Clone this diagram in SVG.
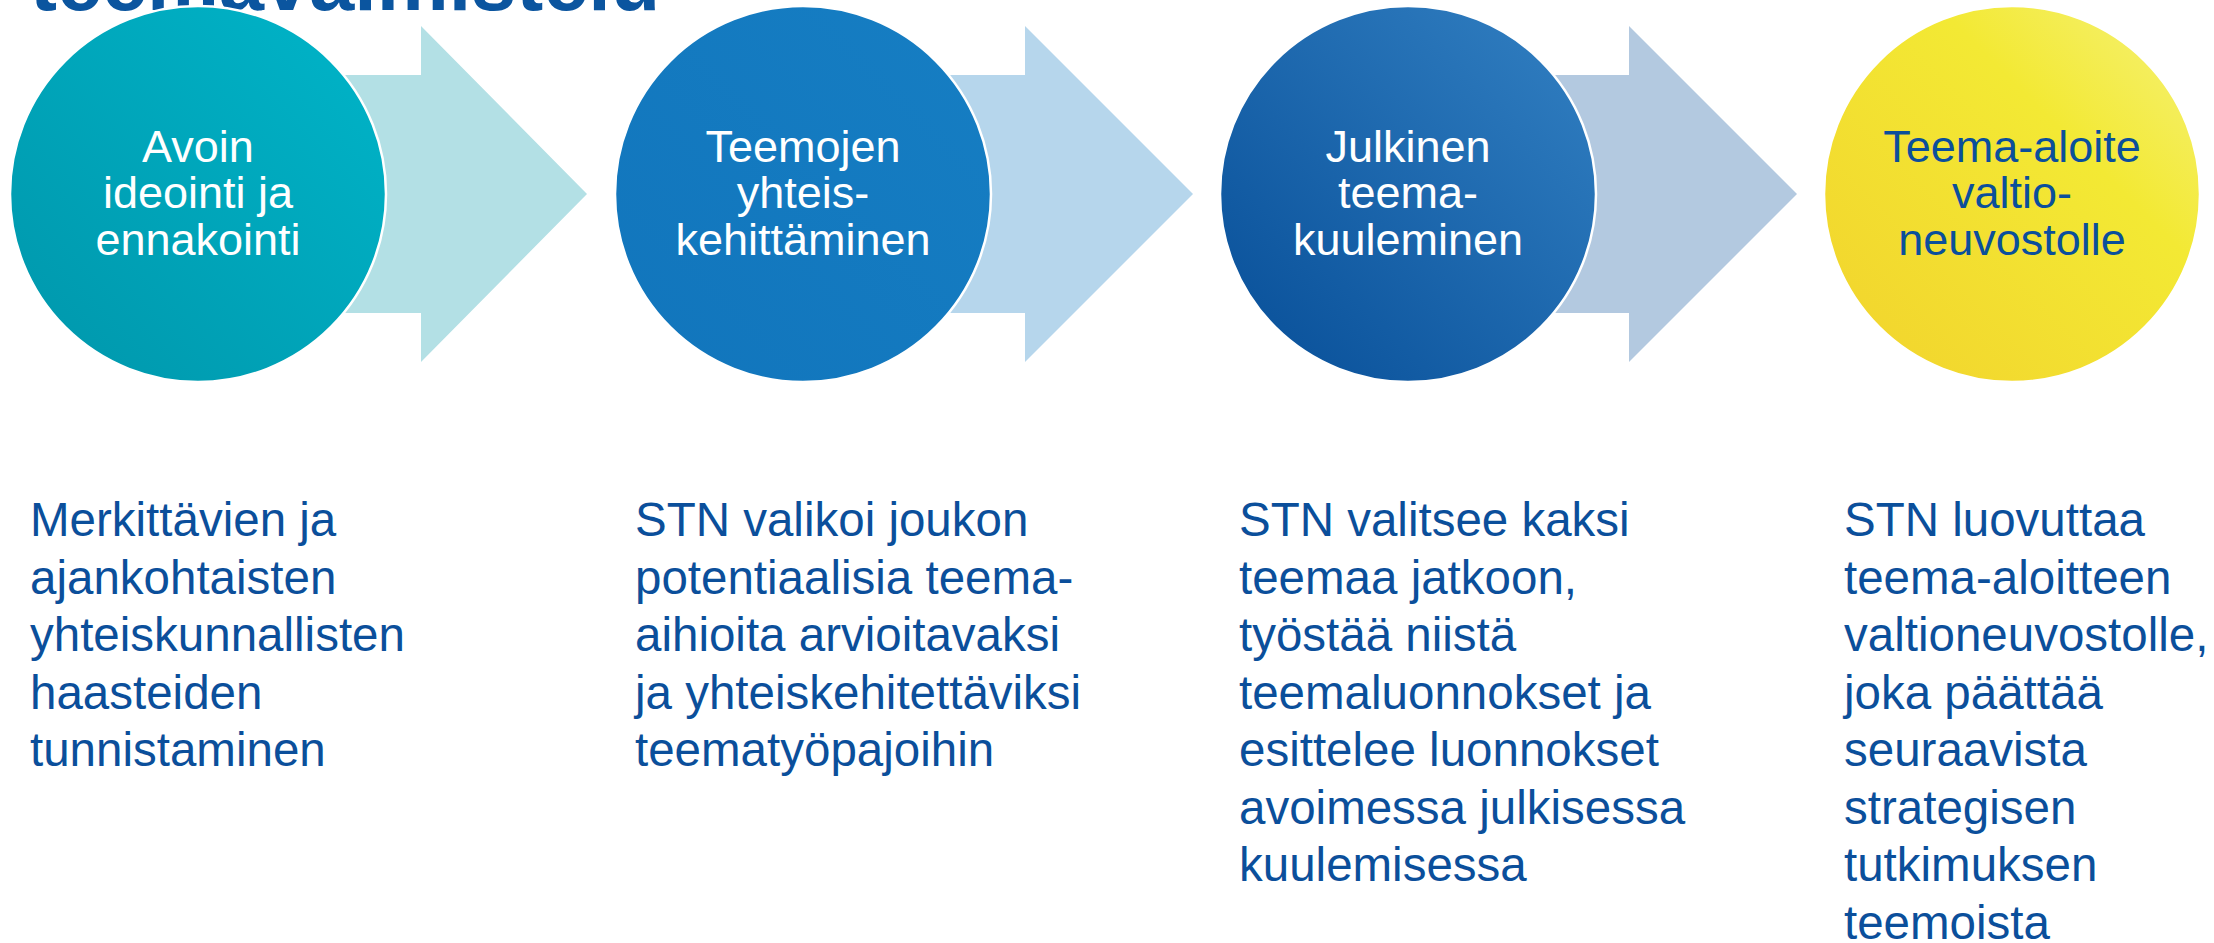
<svg xmlns="http://www.w3.org/2000/svg" width="2214" height="943" viewBox="0 0 2214 943">
<style>
.title{font-family:"Liberation Sans",Arial,sans-serif;font-weight:bold;font-size:81px;fill:#0B559F}
.ct{font-family:"Liberation Sans",Arial,sans-serif;font-size:45px;text-anchor:middle}
.w{fill:#FFFFFF}
.b{fill:#0B4F9B}
.desc{font-family:"Liberation Sans",Arial,sans-serif;font-size:47.5px;fill:#0B4F9B}
.circ{stroke:#FFFFFF;stroke-width:2.5}
</style>
<defs>
<linearGradient id="g1" x1="1" y1="0" x2="0" y2="1"><stop offset="0" stop-color="#00B5C9"/><stop offset="1" stop-color="#0096AB"/></linearGradient>
<linearGradient id="g2" x1="1" y1="0" x2="0" y2="1"><stop offset="0" stop-color="#167EC3"/><stop offset="1" stop-color="#1175BC"/></linearGradient>
<linearGradient id="g3" x1="1" y1="0" x2="0" y2="1"><stop offset="0" stop-color="#3381C3"/><stop offset="1" stop-color="#064D97"/></linearGradient>
<linearGradient id="g4" x1="1" y1="0" x2="0" y2="1"><stop offset="0" stop-color="#F5F27A"/><stop offset="0.35" stop-color="#F3E934"/><stop offset="1" stop-color="#F2D22C"/></linearGradient>
</defs>
<text class="title" x="30" y="10">teemavalmistelu</text>
<g id="connectors">
<polygon points="300,75 421,75 421,26 587,194 421,362 421,313 300,313" fill="#B3E0E5"/>
<polygon points="905,75 1025,75 1025,26 1193,194 1025,362 1025,313 905,313" fill="#B6D6EC"/>
<polygon points="1509,75 1629,75 1629,26 1797,194 1629,362 1629,313 1509,313" fill="#B3C9E0"/>
</g>
<g id="node1">
<circle class="circ" cx="198" cy="194" r="188" fill="url(#g1)"/>
<text class="ct w" x="198" y="162">Avoin</text>
<text class="ct w" x="198" y="208">ideointi ja</text>
<text class="ct w" x="198" y="255">ennakointi</text>
</g>
<g id="node2">
<circle class="circ" cx="803" cy="194" r="188" fill="url(#g2)"/>
<text class="ct w" x="803" y="162">Teemojen</text>
<text class="ct w" x="803" y="208">yhteis-</text>
<text class="ct w" x="803" y="255">kehittäminen</text>
</g>
<g id="node3">
<circle class="circ" cx="1408" cy="194" r="188" fill="url(#g3)"/>
<text class="ct w" x="1408" y="162">Julkinen</text>
<text class="ct w" x="1408" y="208">teema-</text>
<text class="ct w" x="1408" y="255">kuuleminen</text>
</g>
<g id="node4">
<circle class="circ" cx="2012" cy="194" r="188" fill="url(#g4)"/>
<text class="ct b" x="2012" y="162">Teema-aloite</text>
<text class="ct b" x="2012" y="208">valtio-</text>
<text class="ct b" x="2012" y="255">neuvostolle</text>
</g>
<g id="desc1">
<text class="desc" x="30" y="536">Merkittävien ja</text>
<text class="desc" x="30" y="593.5">ajankohtaisten</text>
<text class="desc" x="30" y="651">yhteiskunnallisten</text>
<text class="desc" x="30" y="708.5">haasteiden</text>
<text class="desc" x="30" y="766">tunnistaminen</text>
</g>
<g id="desc2">
<text class="desc" x="635" y="536">STN valikoi joukon</text>
<text class="desc" x="635" y="593.5">potentiaalisia teema-</text>
<text class="desc" x="635" y="651">aihioita arvioitavaksi</text>
<text class="desc" x="635" y="708.5">ja yhteiskehitettäviksi</text>
<text class="desc" x="635" y="766">teematyöpajoihin</text>
</g>
<g id="desc3">
<text class="desc" x="1239" y="536">STN valitsee kaksi</text>
<text class="desc" x="1239" y="593.5">teemaa jatkoon,</text>
<text class="desc" x="1239" y="651">työstää niistä</text>
<text class="desc" x="1239" y="708.5">teemaluonnokset ja</text>
<text class="desc" x="1239" y="766">esittelee luonnokset</text>
<text class="desc" x="1239" y="823.5">avoimessa julkisessa</text>
<text class="desc" x="1239" y="881">kuulemisessa</text>
</g>
<g id="desc4">
<text class="desc" x="1844" y="536">STN luovuttaa</text>
<text class="desc" x="1844" y="593.5">teema-aloitteen</text>
<text class="desc" x="1844" y="651">valtioneuvostolle,</text>
<text class="desc" x="1844" y="708.5">joka päättää</text>
<text class="desc" x="1844" y="766">seuraavista</text>
<text class="desc" x="1844" y="823.5">strategisen</text>
<text class="desc" x="1844" y="881">tutkimuksen</text>
<text class="desc" x="1844" y="938.5">teemoista</text>
</g>
</svg>
